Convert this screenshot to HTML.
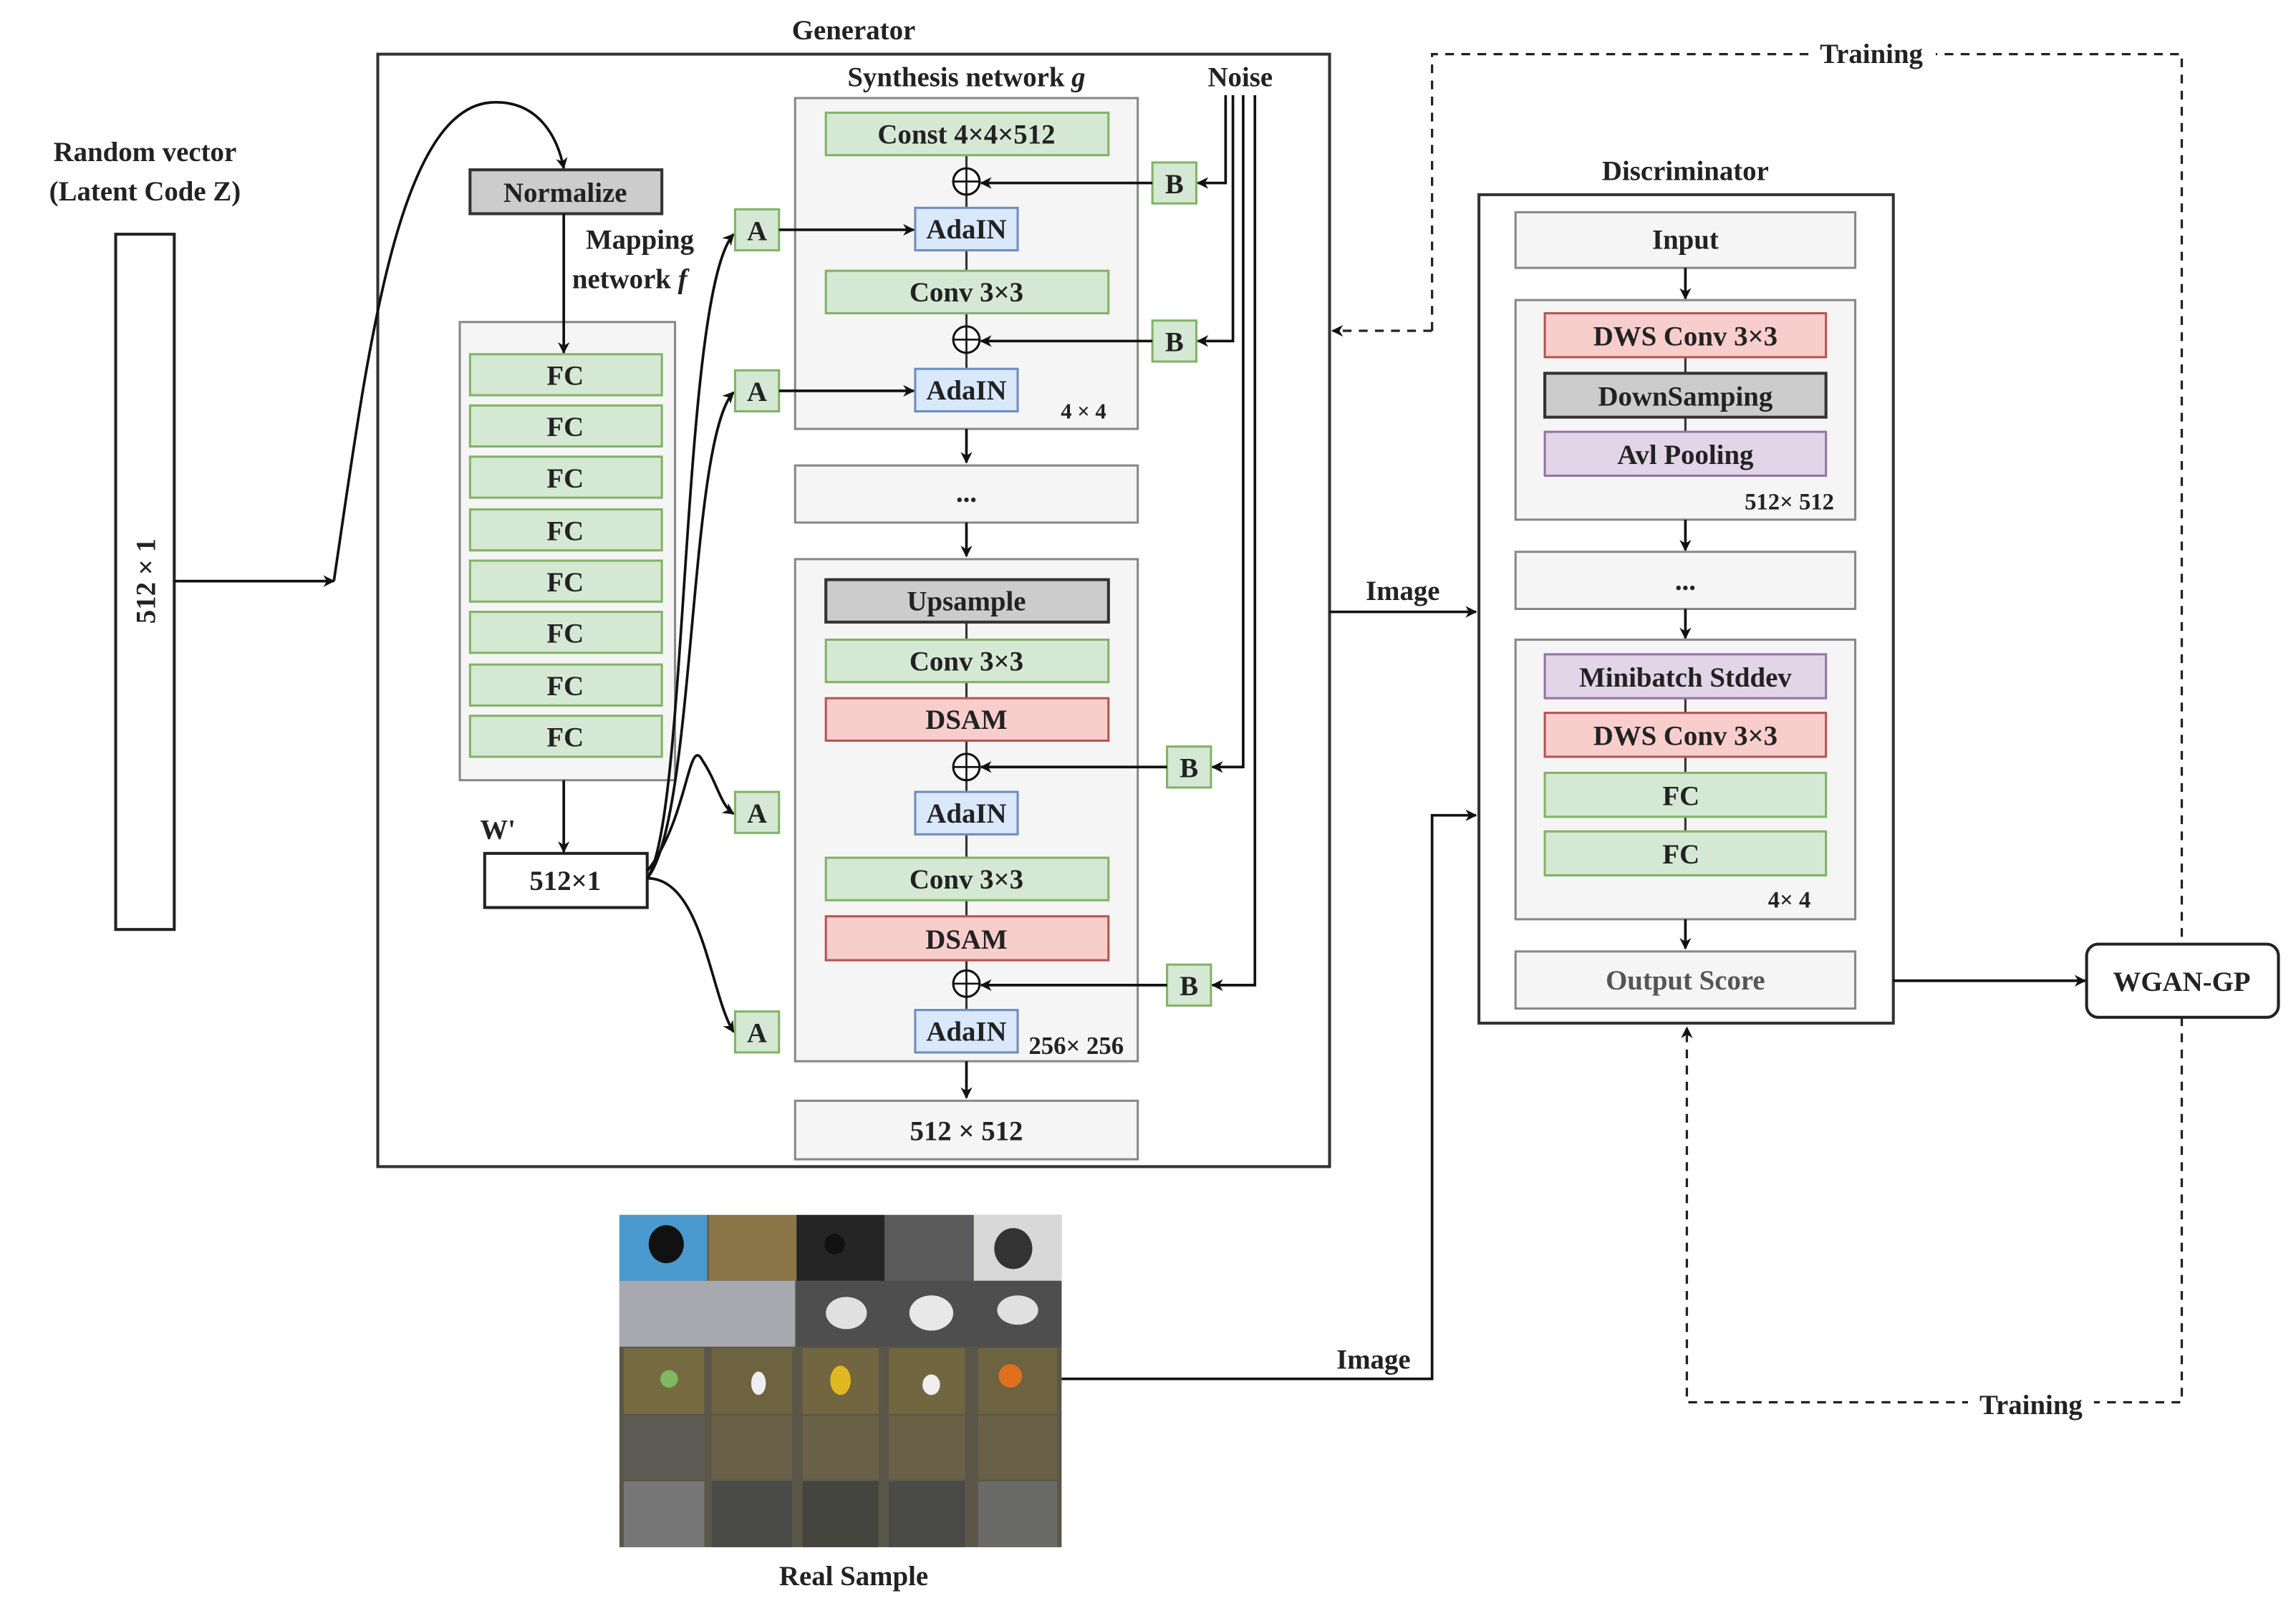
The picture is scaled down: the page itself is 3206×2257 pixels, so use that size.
<!DOCTYPE html>
<html><head><meta charset="utf-8"><style>html,body{margin:0;padding:0;background:#fff}svg{display:block}text{font-family:"Liberation Serif",serif;font-weight:bold;fill:#222}</style></head>
<body>
<svg width="3206" height="2257" viewBox="0 0 1568 1104" preserveAspectRatio="none" xmlns="http://www.w3.org/2000/svg">
<defs>
<marker id="ar" viewBox="0 0 10 10" refX="9" refY="5" markerWidth="8" markerHeight="8" orient="auto-start-reverse" markerUnits="userSpaceOnUse"><path d="M0,0 L10,5 L0,10 L3,5 z" fill="#111"/></marker>
</defs>
<g font-size="19" text-anchor="middle">
<text x="583" y="27">Generator</text>
<rect x="258" y="37" width="650" height="760" fill="none" stroke="#333" stroke-width="2"/>
<text x="99" y="110">Random vector</text>
<text x="99" y="137">(Latent Code Z)</text>
<rect x="79" y="160" width="40" height="475" fill="#fff" stroke="#222" stroke-width="2"/>
<text x="0" y="0" transform="translate(106,397) rotate(-90)">512 × 1</text>
<line x1="119" y1="397" x2="228" y2="397" stroke="#111" stroke-width="1.8" marker-end="url(#ar)"/>
<path d="M228,397 C250,250 270,75 335,70 C365,68 380,90 385,115" fill="none" stroke="#111" stroke-width="1.8" marker-end="url(#ar)"/>
<rect x="321" y="116" width="131" height="30" fill="#ccc" stroke="#333" stroke-width="2"/>
<text x="386" y="138">Normalize</text>
<text x="437" y="170">Mapping</text>
<text x="430" y="197">network <tspan font-style="italic">f</tspan></text>
<rect x="314" y="220" width="147" height="313" fill="#f5f5f5" stroke="#888" stroke-width="1.5"/>
<line x1="385" y1="146" x2="385" y2="241" stroke="#111" stroke-width="1.8" marker-end="url(#ar)"/>
<g fill="#d5e8d4" stroke="#82b366" stroke-width="1.5">
<rect x="321" y="242" width="131" height="28"/><rect x="321" y="277" width="131" height="28"/><rect x="321" y="312" width="131" height="28"/><rect x="321" y="348" width="131" height="28"/><rect x="321" y="383" width="131" height="28"/><rect x="321" y="418" width="131" height="28"/><rect x="321" y="454" width="131" height="28"/><rect x="321" y="489" width="131" height="28"/>
</g>
<text x="386" y="263">FC</text><text x="386" y="298">FC</text><text x="386" y="333">FC</text><text x="386" y="369">FC</text><text x="386" y="404">FC</text><text x="386" y="439">FC</text><text x="386" y="475">FC</text><text x="386" y="510">FC</text>
<line x1="385" y1="533" x2="385" y2="582" stroke="#111" stroke-width="1.8" marker-end="url(#ar)"/>
<text x="340" y="573">W'</text>
<rect x="331" y="583" width="111" height="37" fill="#fff" stroke="#222" stroke-width="2"/>
<text x="386" y="608">512×1</text>
<g fill="none" stroke="#111" stroke-width="1.8" marker-end="url(#ar)">
<path d="M442,600 C470,560 465,200 501,160"/>
<path d="M442,600 C475,560 470,300 501,268"/>
<path d="M442,595 C470,560 470,500 480,520 C490,535 492,550 501,556"/>
<path d="M442,600 C480,600 485,680 501,705"/>
</g>
<g fill="#d5e8d4" stroke="#82b366" stroke-width="1.5">
<rect x="502" y="143" width="30" height="28"/><rect x="502" y="253" width="30" height="28"/><rect x="502" y="541" width="30" height="28"/><rect x="502" y="691" width="30" height="28"/>
<rect x="787" y="111" width="30" height="28"/><rect x="787" y="219" width="30" height="28"/><rect x="797" y="510" width="30" height="28"/><rect x="797" y="659" width="30" height="28"/>
</g>
<text x="517" y="164">A</text><text x="517" y="274">A</text><text x="517" y="562">A</text><text x="517" y="712">A</text>
<text x="802" y="132">B</text><text x="802" y="240">B</text><text x="812" y="531">B</text><text x="812" y="680">B</text>
<text x="660" y="59">Synthesis network <tspan font-style="italic">g</tspan></text>
<text x="847" y="59">Noise</text>
<rect x="543" y="67" width="234" height="226" fill="#f5f5f5" stroke="#888" stroke-width="1.5"/>
<line x1="660" y1="106" x2="660" y2="252" stroke="#333" stroke-width="1.5"/>
<rect x="564" y="77" width="193" height="29" fill="#d5e8d4" stroke="#82b366" stroke-width="1.5"/>
<text x="660" y="98">Const 4×4×512</text>
<rect x="625" y="142" width="70" height="29" fill="#dae8fc" stroke="#6c8ebf" stroke-width="1.5"/>
<text x="660" y="163">AdaIN</text>
<rect x="564" y="185" width="193" height="29" fill="#d5e8d4" stroke="#82b366" stroke-width="1.5"/>
<text x="660" y="206">Conv 3×3</text>
<rect x="625" y="252" width="70" height="29" fill="#dae8fc" stroke="#6c8ebf" stroke-width="1.5"/>
<text x="660" y="273">AdaIN</text>
<text x="740" y="286" font-size="15">4 × 4</text>
<line x1="660" y1="293" x2="660" y2="316" stroke="#111" stroke-width="1.8" marker-end="url(#ar)"/>
<rect x="543" y="318" width="234" height="39" fill="#f5f5f5" stroke="#888" stroke-width="1.5"/>
<text x="660" y="343">...</text>
<line x1="660" y1="357" x2="660" y2="380" stroke="#111" stroke-width="1.8" marker-end="url(#ar)"/>
<rect x="543" y="382" width="234" height="343" fill="#f5f5f5" stroke="#888" stroke-width="1.5"/>
<line x1="660" y1="425" x2="660" y2="690" stroke="#333" stroke-width="1.5"/>
<rect x="564" y="396" width="193" height="29" fill="#ccc" stroke="#333" stroke-width="2"/>
<text x="660" y="417">Upsample</text>
<rect x="564" y="437" width="193" height="29" fill="#d5e8d4" stroke="#82b366" stroke-width="1.5"/>
<text x="660" y="458">Conv 3×3</text>
<rect x="564" y="477" width="193" height="29" fill="#f8cecc" stroke="#b85450" stroke-width="1.5"/>
<text x="660" y="498">DSAM</text>
<rect x="625" y="541" width="70" height="29" fill="#dae8fc" stroke="#6c8ebf" stroke-width="1.5"/>
<text x="660" y="562">AdaIN</text>
<rect x="564" y="586" width="193" height="29" fill="#d5e8d4" stroke="#82b366" stroke-width="1.5"/>
<text x="660" y="607">Conv 3×3</text>
<rect x="564" y="626" width="193" height="30" fill="#f8cecc" stroke="#b85450" stroke-width="1.5"/>
<text x="660" y="648">DSAM</text>
<rect x="625" y="690" width="70" height="29" fill="#dae8fc" stroke="#6c8ebf" stroke-width="1.5"/>
<text x="660" y="711">AdaIN</text>
<text x="735" y="720" font-size="17">256× 256</text>
<line x1="660" y1="725" x2="660" y2="750" stroke="#111" stroke-width="1.8" marker-end="url(#ar)"/>
<rect x="543" y="752" width="234" height="40" fill="#f5f5f5" stroke="#888" stroke-width="1.5"/>
<text x="660" y="779">512 × 512</text>
<g fill="#fff" stroke="#111" stroke-width="1.5">
<circle cx="660" cy="124" r="9"/><circle cx="660" cy="232" r="9"/><circle cx="660" cy="524" r="9"/><circle cx="660" cy="672" r="9"/>
</g>
<g stroke="#111" stroke-width="1.3">
<path d="M651,124h18M660,115v18M651,232h18M660,223v18M651,524h18M660,515v18M651,672h18M660,663v18"/>
</g>
<g fill="none" stroke="#111" stroke-width="1.8" marker-end="url(#ar)">
<line x1="532" y1="157" x2="624" y2="157"/><line x1="532" y1="267" x2="624" y2="267"/>
<line x1="787" y1="125" x2="670" y2="125"/><line x1="787" y1="233" x2="670" y2="233"/>
<line x1="797" y1="524" x2="670" y2="524"/><line x1="797" y1="673" x2="670" y2="673"/>
<path d="M837,65 V125 H818"/><path d="M842,65 V233 H818"/><path d="M849,65 V524 H828"/><path d="M857,65 V673 H828"/>
</g>
<line x1="908" y1="418" x2="1008" y2="418" stroke="#111" stroke-width="1.8" marker-end="url(#ar)"/>
<text x="958" y="410">Image</text>
<path d="M978,226 V37 H1490 V645" fill="none" stroke="#222" stroke-width="1.6" stroke-dasharray="6,5"/>
<line x1="978" y1="226" x2="910" y2="226" stroke="#222" stroke-width="1.6" stroke-dasharray="6,5" marker-end="url(#ar)"/>
<rect x="1236" y="27" width="86" height="20" fill="#fff"/>
<text x="1278" y="43">Training</text>
<path d="M1490,695 V958 H1152 V702" fill="none" stroke="#222" stroke-width="1.6" stroke-dasharray="6,5" marker-end="url(#ar)"/>
<rect x="1344" y="948" width="86" height="20" fill="#fff"/>
<text x="1387" y="966">Training</text>
<text x="1151" y="123">Discriminator</text>
<rect x="1010" y="133" width="283" height="566" fill="#fff" stroke="#333" stroke-width="2"/>
<rect x="1035" y="145" width="232" height="38" fill="#f5f5f5" stroke="#888" stroke-width="1.5"/>
<text x="1151" y="170">Input</text>
<line x1="1151" y1="183" x2="1151" y2="204" stroke="#111" stroke-width="1.8" marker-end="url(#ar)"/>
<rect x="1035" y="205" width="232" height="150" fill="#f5f5f5" stroke="#888" stroke-width="1.5"/>
<line x1="1151" y1="244" x2="1151" y2="295" stroke="#333" stroke-width="1.5"/>
<rect x="1055" y="214" width="192" height="30" fill="#f8cecc" stroke="#b85450" stroke-width="1.5"/>
<text x="1151" y="236">DWS Conv 3×3</text>
<rect x="1055" y="255" width="192" height="30" fill="#ccc" stroke="#333" stroke-width="2"/>
<text x="1151" y="277">DownSamping</text>
<rect x="1055" y="295" width="192" height="30" fill="#e1d5e7" stroke="#9673a6" stroke-width="1.5"/>
<text x="1151" y="317">Avl Pooling</text>
<text x="1222" y="348" font-size="16">512× 512</text>
<line x1="1151" y1="355" x2="1151" y2="376" stroke="#111" stroke-width="1.8" marker-end="url(#ar)"/>
<rect x="1035" y="377" width="232" height="39" fill="#f5f5f5" stroke="#888" stroke-width="1.5"/>
<text x="1151" y="403">...</text>
<line x1="1151" y1="416" x2="1151" y2="436" stroke="#111" stroke-width="1.8" marker-end="url(#ar)"/>
<rect x="1035" y="437" width="232" height="191" fill="#f5f5f5" stroke="#888" stroke-width="1.5"/>
<line x1="1151" y1="477" x2="1151" y2="568" stroke="#333" stroke-width="1.5"/>
<rect x="1055" y="447" width="192" height="30" fill="#e1d5e7" stroke="#9673a6" stroke-width="1.5"/>
<text x="1151" y="469">Minibatch Stddev</text>
<rect x="1055" y="487" width="192" height="30" fill="#f8cecc" stroke="#b85450" stroke-width="1.5"/>
<text x="1151" y="509">DWS Conv 3×3</text>
<rect x="1055" y="528" width="192" height="30" fill="#d5e8d4" stroke="#82b366" stroke-width="1.5"/>
<text x="1148" y="550">FC</text>
<rect x="1055" y="568" width="192" height="30" fill="#d5e8d4" stroke="#82b366" stroke-width="1.5"/>
<text x="1148" y="590">FC</text>
<text x="1222" y="620" font-size="16">4× 4</text>
<line x1="1151" y1="628" x2="1151" y2="648" stroke="#111" stroke-width="1.8" marker-end="url(#ar)"/>
<rect x="1035" y="650" width="232" height="39" fill="#f5f5f5" stroke="#888" stroke-width="1.5"/>
<text x="1151" y="676" style="fill:#555">Output Score</text>
<line x1="1293" y1="670" x2="1424" y2="670" stroke="#111" stroke-width="1.8" marker-end="url(#ar)"/>
<rect x="1425" y="645" width="131" height="50" rx="8" fill="#fff" stroke="#222" stroke-width="2"/>
<text x="1490" y="677">WGAN-GP</text>
<path d="M725,942 H978 V557 H1008" fill="none" stroke="#111" stroke-width="1.8" marker-end="url(#ar)"/>
<text x="938" y="935">Image</text>
<g>
<rect x="423" y="830" width="302" height="227" fill="#5a5648"/>
<rect x="423" y="830" width="60" height="45" fill="#4a9ad0"/><ellipse cx="455" cy="850" rx="12" ry="13" fill="#111"/>
<rect x="484" y="830" width="60" height="45" fill="#8a7646"/>
<rect x="544" y="830" width="60" height="45" fill="#252525"/><circle cx="570" cy="850" r="7" fill="#111"/>
<rect x="604" y="830" width="60" height="45" fill="#5a5a5a"/>
<rect x="665" y="830" width="60" height="45" fill="#d8d8d8"/><ellipse cx="692" cy="853" rx="13" ry="14" fill="#333"/>
<rect x="423" y="875" width="120" height="45" fill="#a8a8b0"/>
<rect x="544" y="875" width="181" height="45" fill="#4e4e4e"/>
<ellipse cx="578" cy="897" rx="14" ry="11" fill="#e0e0e0"/><ellipse cx="636" cy="897" rx="15" ry="12" fill="#e8e8e8"/><ellipse cx="695" cy="895" rx="14" ry="10" fill="#e0e0e0"/>
<rect x="426" y="921" width="55" height="45" fill="#756a40"/><rect x="486" y="921" width="55" height="45" fill="#6e6340"/><rect x="548" y="921" width="52" height="45" fill="#716640"/><rect x="607" y="921" width="52" height="45" fill="#706640"/><rect x="668" y="921" width="54" height="45" fill="#6d6340"/>
<circle cx="457" cy="942" r="6" fill="#7fb860"/><ellipse cx="518" cy="945" rx="5" ry="8" fill="#eee"/><ellipse cx="574" cy="943" rx="7" ry="10" fill="#e0b820"/><ellipse cx="636" cy="946" rx="6" ry="7" fill="#eee"/><circle cx="690" cy="940" r="8" fill="#e07020"/>
<rect x="426" y="967" width="55" height="44" fill="#5c5a52"/><rect x="486" y="967" width="55" height="44" fill="#6a6048"/><rect x="548" y="967" width="52" height="44" fill="#6a6048"/><rect x="607" y="967" width="52" height="44" fill="#6a6048"/><rect x="668" y="967" width="54" height="44" fill="#6a6048"/>
<rect x="426" y="1012" width="55" height="45" fill="#777"/><rect x="486" y="1012" width="55" height="45" fill="#4a4a48"/><rect x="548" y="1012" width="52" height="45" fill="#454540"/><rect x="607" y="1012" width="52" height="45" fill="#4a4a48"/><rect x="668" y="1012" width="54" height="45" fill="#6a6a68"/>
</g>
<text x="583" y="1083">Real Sample</text>
</g>
</svg>
</body></html>
